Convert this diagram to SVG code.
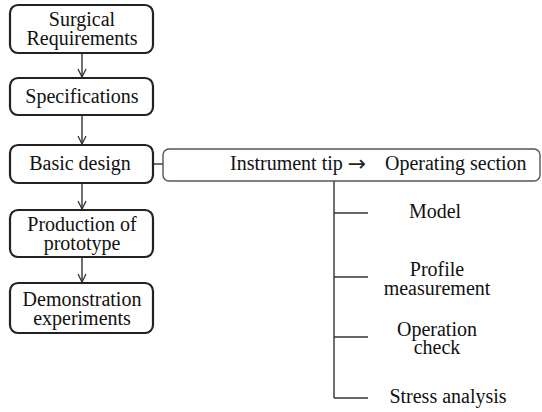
<svg xmlns="http://www.w3.org/2000/svg" width="542" height="412" viewBox="0 0 542 412">
<style>
.box{fill:#fff;stroke:#222;stroke-width:2.2}
.wide{fill:#fff;stroke:#555;stroke-width:1.4}
.t{font-family:'Liberation Serif','DejaVu Serif',serif;font-size:20px;fill:#111;text-anchor:middle}
.s{text-anchor:start}
.arr{font-family:'DejaVu Sans',sans-serif;font-size:22px;fill:#222;text-anchor:middle}
.ln{stroke:#333;stroke-width:1.4;fill:none}
</style>
<defs>
<marker id="ah" viewBox="0 0 10 10" refX="9" refY="5" markerWidth="10" markerHeight="10" markerUnits="userSpaceOnUse" orient="auto">
<path d="M1,1 L9,5 L1,9" fill="none" stroke="#333" stroke-width="1.3"/>
</marker>
</defs>
<g id="connectors">
<line class="ln" x1="82" y1="53" x2="82" y2="77" marker-end="url(#ah)"/>
<line class="ln" x1="82" y1="115" x2="82" y2="144" marker-end="url(#ah)"/>
<line class="ln" x1="82" y1="183" x2="82" y2="209" marker-end="url(#ah)"/>
<line class="ln" x1="82" y1="257" x2="82" y2="282" marker-end="url(#ah)"/>
<line class="ln" x1="153" y1="164" x2="163" y2="164"/>
<line class="ln" x1="334" y1="181" x2="334" y2="398"/>
<line class="ln" x1="334" y1="213" x2="368" y2="213"/>
<line class="ln" x1="334" y1="277" x2="368" y2="277"/>
<line class="ln" x1="334" y1="337" x2="368" y2="337"/>
<line class="ln" x1="334" y1="398" x2="368" y2="398"/>
</g>
<g id="surgical">
<rect class="box" x="10" y="5" width="143" height="48" rx="8"/>
<text class="t" x="82" y="26">Surgical</text>
<text class="t" x="82" y="45">Requirements</text>
</g>
<g id="specifications">
<rect class="box" x="10" y="78" width="143" height="37" rx="8"/>
<text class="t" x="82" y="103">Specifications</text>
</g>
<g id="basic">
<rect class="box" x="10" y="145" width="143" height="38" rx="8"/>
<text class="t" x="80" y="170">Basic design</text>
</g>
<g id="instrument">
<rect class="wide" x="163" y="149" width="377" height="32" rx="6"/>
<text class="t s" x="230" y="170">Instrument tip</text>
<text class="arr" x="357" y="171">→</text>
<text class="t s" x="385" y="170">Operating section</text>
</g>
<g id="production">
<rect class="box" x="10" y="210" width="143" height="47" rx="8"/>
<text class="t" x="82" y="231">Production of</text>
<text class="t" x="82" y="250">prototype</text>
</g>
<g id="demonstration">
<rect class="box" x="10" y="283" width="143" height="50" rx="8"/>
<text class="t" x="82" y="306">Demonstration</text>
<text class="t" x="82" y="325">experiments</text>
</g>
<g id="model"><text class="t" x="435" y="218">Model</text></g>
<g id="profile"><text class="t" x="437" y="276">Profile</text><text class="t" x="437" y="295">measurement</text></g>
<g id="operation"><text class="t" x="437" y="336">Operation</text><text class="t" x="437" y="354">check</text></g>
<g id="stress"><text class="t" x="448" y="403">Stress analysis</text></g>
</svg>
